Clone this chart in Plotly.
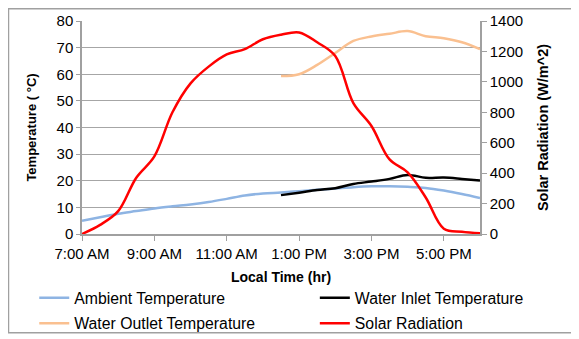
import plotly.graph_objects as go

# half-hour readings, 7:00 to 18:00
times = ["2020-01-01 07:00", "2020-01-01 07:30", "2020-01-01 08:00", "2020-01-01 08:30",
         "2020-01-01 09:00", "2020-01-01 09:30", "2020-01-01 10:00", "2020-01-01 10:30",
         "2020-01-01 11:00", "2020-01-01 11:30", "2020-01-01 12:00", "2020-01-01 12:30",
         "2020-01-01 13:00", "2020-01-01 13:30", "2020-01-01 14:00", "2020-01-01 14:30",
         "2020-01-01 15:00", "2020-01-01 15:30", "2020-01-01 16:00", "2020-01-01 16:30",
         "2020-01-01 17:00", "2020-01-01 17:30", "2020-01-01 18:00"]

ambient = [5.0, 6.3, 7.6, 8.6, 9.6, 10.4, 11.1, 12.0, 13.2, 14.5, 15.2, 15.6,
           16.1, 16.6, 17.1, 17.6, 17.9, 17.9, 17.7, 17.3, 16.3, 15.0, 13.5]
inlet = [None] * 11 + [14.6, 15.5, 16.5, 17.2, 18.8, 19.7, 20.7, 22.2, 21.1, 21.2, 20.7, 20.1]
outlet = [None] * 11 + [59.3, 60.0, 63.5, 68.0, 72.5, 74.2, 75.2, 76.2, 74.3, 73.5, 72.0, 69.4]
solar = [0, 60, 150, 370, 510, 800, 990, 1100, 1180, 1215, 1280, 1310,
         1325, 1260, 1170, 860, 710, 490, 405, 240, 35, 15, 5]

FONT = "Liberation Sans"

fig = go.Figure()
fig.add_trace(go.Scatter(x=times, y=ambient, name="Ambient Temperature", mode="lines",
                         line=dict(color="#8EB4E3", width=2.5, shape="spline"),
                         legend="legend", legendgroup="a"))
fig.add_trace(go.Scatter(x=times, y=outlet, name="Water Outlet Temperature", mode="lines",
                         line=dict(color="#FAC090", width=2.5, shape="spline"),
                         legend="legend", legendgroup="b"))
fig.add_trace(go.Scatter(x=times, y=inlet, name="Water Inlet Temperature", mode="lines",
                         line=dict(color="black", width=2.5, shape="spline"),
                         legend="legend2", legendgroup="c"))
fig.add_trace(go.Scatter(x=times, y=solar, name="Solar Radiation", mode="lines",
                         line=dict(color="#FF0000", width=2.5, shape="spline"),
                         yaxis="y2", legend="legend2", legendgroup="d"))

axis_font = dict(family=FONT, size=15, color="black")
legend_font = dict(family=FONT, size=15.8, color="black")

def bold(size):
    return dict(family=FONT, size=size, color="black", weight="bold")

# page body has an 8px margin, so the figure is a bit smaller than the window
fig.update_layout(
    width=571, height=331,
    margin=dict(l=74, r=99, t=13, b=105, autoexpand=False),
    paper_bgcolor="white", plot_bgcolor="white",
    font=axis_font,
    xaxis=dict(type="date", range=["2020-01-01 07:00", "2020-01-01 18:00"],
               tick0="2020-01-01 07:00", dtick=7200000, tickformat="%-I:%M %p",
               showgrid=False, showline=True, linecolor="#A0A0A0", linewidth=1.5,
               ticks="outside", ticklen=5, tickcolor="#A0A0A0",
               tickfont=axis_font, ticklabelstandoff=0,
               title=dict(text="Local Time (hr)", font=bold(14), standoff=11)),
    yaxis=dict(range=[0, 80], dtick=10, showgrid=True, gridcolor="#A6A6A6", gridwidth=1.3,
               showline=True, linecolor="#A0A0A0", linewidth=1.5,
               ticks="outside", ticklen=4, tickcolor="#A0A0A0", tickfont=axis_font,
               zeroline=False,
               title=dict(text="Temperature ( °C)", font=bold(13), standoff=17)),
    yaxis2=dict(range=[0, 1400], dtick=200, overlaying="y", side="right", showgrid=False,
                showline=True, linecolor="#A0A0A0", linewidth=1.5,
                ticks="outside", ticklen=5, tickcolor="#A0A0A0", tickfont=axis_font,
                zeroline=False,
                title=dict(text="Solar Radiation (W/m^2)", font=bold(14.5), standoff=16)),
    legend=dict(x=-0.12, y=-0.22, xanchor="left", yanchor="top", orientation="v",
                font=legend_font, tracegroupgap=2, bgcolor="rgba(0,0,0,0)"),
    legend2=dict(x=0.585, y=-0.22, xanchor="left", yanchor="top", orientation="v",
                 font=legend_font, tracegroupgap=2, bgcolor="rgba(0,0,0,0)"),
    shapes=[dict(type="rect", xref="paper", yref="paper",
                 x0=-0.1847, x1=1.2312, y0=-0.464, y1=1.057,
                 line=dict(color="#A0A0A0", width=1.5), layer="below")],
)

fig.write_html("out.html")
